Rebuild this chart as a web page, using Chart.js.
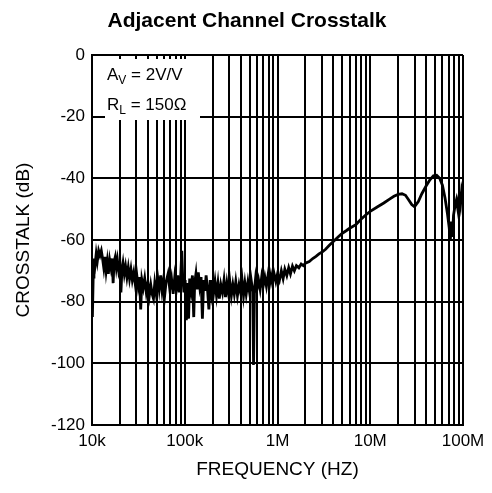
<!DOCTYPE html>
<html>
<head>
<meta charset="utf-8">
<script src="https://cdn.jsdelivr.net/npm/chart.js@4/dist/chart.umd.min.js"></script>
<style>
  body { margin: 0; background: #fff; }
  canvas { display: block; }
</style>
</head>
<body>
<canvas id="crosstalk" width="492" height="493"></canvas>
<script>
const freqHz = [
  10000, 10100, 10300, 10500, 10800, 11100, 11400, 11800, 12200, 12600,
  13000, 13400, 13800, 14200, 14600, 15000, 15500, 16000, 16500, 16900,
  17300, 17800, 18300, 18800, 19400, 20000, 20500, 21000, 21600, 22300,
  23000, 23800, 24600, 25400, 26300, 27200, 28200, 29200, 30300, 31400,
  32500, 33500, 34500, 35700, 37000, 38500, 40000, 41500, 43000, 44500,
  46000, 47500, 49000, 51000, 53000, 55000, 57000, 59000, 61000, 63000,
  66000, 69000, 72000, 75000, 78000, 81000, 84000, 87000, 90000, 93000,
  95000, 98000, 101000, 104000, 107000, 110000, 113000, 117000, 121000, 125000,
  128000, 132000, 136000, 140000, 145000, 150000, 155000, 160000, 165000, 170000,
  176000, 182000, 188000, 194000, 200000, 205000, 212000, 220000, 228000, 236000,
  245000, 255000, 265000, 275000, 285000, 295000, 305000, 318000, 330000, 342000,
  355000, 370000, 385000, 400000, 415000, 430000, 445000, 460000, 480000, 500000,
  520000, 540000, 552000, 565000, 580000, 600000, 625000, 650000, 675000, 700000,
  730000, 760000, 790000, 820000, 850000, 880000, 920000, 960000, 1000000, 1050000,
  1100000, 1150000, 1200000, 1260000, 1320000, 1380000, 1450000, 1520000, 1600000, 1700000,
  1800000, 1900000, 2000000, 2200000, 2400000, 2600000, 2800000, 3000000, 3300000, 3600000,
  4000000, 4500000, 5000000, 5500000, 6000000, 7000000, 8000000, 9000000, 10000000, 12000000,
  14000000, 16000000, 18000000, 20000000, 22000000, 24000000, 26000000, 28000000, 30000000, 33000000,
  36000000, 40000000, 44000000, 48000000, 52000000, 56000000, 60000000, 64000000, 68000000, 71000000,
  73000000, 75000000, 77000000, 79000000, 82000000, 85000000, 88000000, 91000000, 94000000, 97000000,
  100000000
];

const crosstalkDb = [
  -70, -85, -72, -66, -68, -64.5, -67, -63.5, -65, -63.5,
  -66, -69, -65.5, -70, -67, -71, -66.5, -69, -66, -74,
  -67, -65.5, -69, -66.5, -70, -68, -77, -70, -67.5, -71,
  -68.5, -72, -69, -72.5, -69.5, -73, -70.5, -74, -71, -75,
  -72, -82.5, -73, -75.5, -72.5, -77, -74, -78, -74.5, -77.5,
  -79, -74, -77, -72, -76, -71.5, -76.5, -73, -77.5, -73.5,
  -71, -76, -72.5, -77.5, -72, -76, -71.5, -77, -73, -63.5,
  -72, -77, -73, -86, -74, -85.5, -72.5, -76, -71.5, -85,
  -74, -71, -76, -70.5, -75, -72, -85.5, -73, -76.5, -71.5,
  -76, -82.5, -73, -77, -73, -77, -73.5, -78, -74, -79,
  -74.5, -77, -73, -78.5, -74, -77, -73, -78, -74.5, -77.5,
  -73.5, -78, -74.5, -77, -73, -78, -74, -77.5, -73.5, -77,
  -73, -76.5, -100.5, -76, -72.5, -76, -73, -76, -72, -75,
  -72, -75, -71.5, -74.5, -71.5, -74, -71, -73.5, -71, -73,
  -70, -72.5, -69.5, -71.5, -69, -71, -68.5, -70, -68.3, -69,
  -67.8, -68.3, -67.5, -67, -66, -65.3, -64.5, -64, -63, -61.8,
  -60.5, -59, -57.8, -57, -56.2, -55, -53.2, -51.8, -50.7, -49.2,
  -48, -46.8, -45.8, -45.2, -45, -45.5, -47, -48.5, -49.2, -47.5,
  -45, -42.5, -40.5, -39.2, -39, -40, -42.2, -46.4, -51.5, -56,
  -60, -54, -59, -52, -49, -47, -50, -45.5, -48.5, -43.5,
  -45
];

const decadeLabels = { 1e4: '10k', 1e5: '100k', 1e6: '1M', 1e7: '10M', 1e8: '100M' };

// 1..9 in every decade, then the last one
const freqTicks = [];
for (let e = 4; e < 8; e++) {
  for (let m = 1; m <= 9; m++) freqTicks.push(m * Math.pow(10, e));
}
freqTicks.push(1e8);

const font = 'Liberation Sans, Arial, Helvetica, sans-serif';
const chartTitle = 'Adjacent Channel Crosstalk';

// title sits a bit left of the plot centre in the original, so it is drawn by hand
const headerAndNote = {
  id: 'headerAndNote',
  beforeDatasetsDraw(chart) {
    const ctx = chart.ctx;
    ctx.save();
    ctx.fillStyle = '#fff';
    ctx.fillRect(105, 59, 95, 61);
    ctx.fillStyle = '#000';
    ctx.textBaseline = 'alphabetic';

    let x = 107;
    ctx.font = '17px ' + font;
    ctx.fillText('A', x, 80);
    x += ctx.measureText('A').width;
    ctx.font = '12px ' + font;
    ctx.fillText('V', x, 84);
    x += ctx.measureText('V').width;
    ctx.font = '17px ' + font;
    ctx.fillText(' = 2V/V', x, 80);

    x = 107;
    ctx.fillText('R', x, 110);
    x += ctx.measureText('R').width;
    ctx.font = '12px ' + font;
    ctx.fillText('L', x, 114);
    x += ctx.measureText('L').width;
    ctx.font = '17px ' + font;
    ctx.fillText(' = 150\u03A9', x, 110);

    ctx.font = 'bold 21px ' + font;
    ctx.textAlign = 'center';
    ctx.fillText(chartTitle, 247, 27);
    ctx.restore();
  }
};

const ctx = document.getElementById('crosstalk');

ctx.chartInstance = new Chart(ctx, {
  type: 'line',
  data: {
    datasets: [{
      data: freqHz.map((f, i) => ({ x: f, y: crosstalkDb[i] })),
      borderColor: '#000',
      borderWidth: 2.8,
      pointRadius: 0,
      tension: 0,
      fill: false
    }]
  },
  options: {
    responsive: false,
    animation: false,
    devicePixelRatio: 1,
    layout: { padding: { left: 0, right: 29, top: 55, bottom: 0 } },
    scales: {
      x: {
        type: 'logarithmic',
        min: 1e4,
        max: 1e8,
        afterBuildTicks: (axis) => {
          axis.ticks = freqTicks.map(v => ({ value: v }));
        },
        afterFit: (axis) => { axis.height = 68; },
        ticks: {
          autoSkip: false,
          maxRotation: 0,
          padding: 6,
          color: '#000',
          font: { family: font, size: 17 },
          callback: (v) => decadeLabels[v] || ''
        },
        grid: { color: '#000', lineWidth: 2, drawTicks: false },
        border: { color: '#000', width: 2 },
        title: {
          display: true,
          text: 'FREQUENCY (HZ)',
          color: '#000',
          font: { family: font, size: 19 },
          padding: { top: 0, bottom: 12 }
        }
      },
      y: {
        min: -120,
        max: 0,
        afterFit: (axis) => { axis.width = 92; },
        ticks: {
          stepSize: 20,
          padding: 7,
          color: '#000',
          font: { family: font, size: 17 }
        },
        grid: { color: '#000', lineWidth: 2, drawTicks: false },
        border: { color: '#000', width: 2 },
        title: {
          display: true,
          text: 'CROSSTALK (dB)',
          color: '#000',
          font: { family: font, size: 19 },
          padding: { top: 12, bottom: 0 }
        }
      }
    },
    plugins: {
      legend: { display: false },
      tooltip: { enabled: false },
      title: { display: false }
    }
  },
  plugins: [headerAndNote]
});
</script>
</body>
</html>
